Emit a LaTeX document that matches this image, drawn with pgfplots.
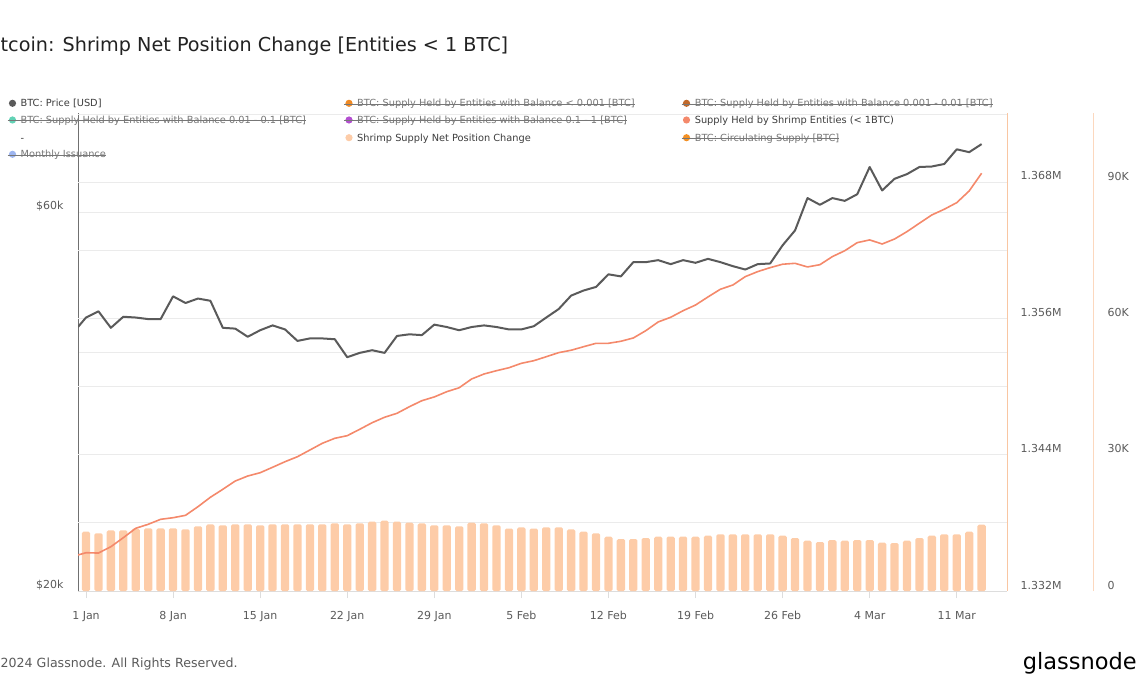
\documentclass[border=0pt]{standalone}
\usepackage{pgfplots}
\pgfplotsset{compat=1.18}
\usepackage{fontspec}
\setmainfont{DejaVu Sans}
\definecolor{pricec}{HTML}{5A5A5A}
\definecolor{supplyc}{HTML}{F4896B}
\definecolor{barc}{HTML}{FDCCA8}
\definecolor{gridc}{HTML}{EBEBEB}
\definecolor{textc}{HTML}{5A5A5A}
\definecolor{axisc}{HTML}{707070}
\definecolor{xaxisc}{HTML}{DDDDDD}
\definecolor{rightc}{HTML}{F9C6A2}
\definecolor{rightcb}{HTML}{FCD8BE}
\definecolor{legc}{HTML}{3C3C3C}
\definecolor{strkc}{HTML}{777777}
\definecolor{titlec}{HTML}{222222}
\definecolor{c001}{HTML}{F08A24}
\definecolor{c01}{HTML}{C1692A}
\definecolor{c1}{HTML}{62D2B5}
\definecolor{c10}{HTML}{B34FD0}
\definecolor{circc}{HTML}{F39024}
\definecolor{issc}{HTML}{9DB5F0}
\pgfplotsset{
  base/.style={at={(78pt,103pt)}, anchor=south west, scale only axis,
    width=929pt, height=478pt, xmin=-0.643, xmax=74.04,
    ticklabel style={font=\fontsize{11}{13}\selectfont, text=textc}},
}
\tikzset{
  legtext/.style={anchor=base west, inner sep=0pt, font=\fontsize{9.8}{12}\selectfont, text=legc},
  legstrk/.style={legtext, text=strkc},
}
\begin{document}
\begin{tikzpicture}[x=1pt,y=1pt]
\useasboundingbox (0,0) rectangle (1140,694);
% title (left part cut in the reference)
\node[anchor=base west, inner sep=0pt, font=\fontsize{19.2}{22}\selectfont, text=titlec] at (0.5,642) {tcoin: Shrimp Net Position Change [Entities < 1 BTC]};

% price grid / left axis
\begin{axis}[base, ymode=log, ymin=20000, ymax=80000,
  axis x line=none, axis y line*=left,
  ytick={20000,40000,60000}, yticklabels={\$20k,,\$60k},
  ymajorgrids, grid style={gridc, line width=0.8pt},
  ytick style={draw=none},
  y axis line style={color=axisc, line width=1pt, -},
  yticklabel style={xshift=-11pt, yshift=6pt}]
\end{axis}

% bars axis (Shrimp Supply Net Position Change)
\begin{axis}[base, ymin=0, ymax=105.2,
  axis x line*=bottom, axis y line*=right,
  ybar, bar width=8.3pt,
  ytick={0,15,...,105}, yticklabels={0,,30K,,60K,,90K,},
  ymajorgrids, grid style={gridc, line width=0.8pt},
  ytick style={draw=none},
  y axis line style={draw=none},
  x axis line style={color=xaxisc, line width=0.8pt, -},
  xtick={0,7,...,70},
  xticklabels={1 Jan,8 Jan,15 Jan,22 Jan,29 Jan,5 Feb,12 Feb,19 Feb,26 Feb,4 Mar,11 Mar},
  tick align=outside, major tick length=7pt,
  xtick style={color=xaxisc, line width=0.8pt},
  xticklabel style={yshift=-10pt},
  yticklabel style={xshift=90pt, yshift=6pt}]
\addplot[fill=barc, draw=none, rounded corners=1.5pt] table {
x y
0 13.05
1 12.70
2 13.36
3 13.36
4 13.71
5 13.80
6 13.80
7 13.80
8 13.58
9 14.24
10 14.68
11 14.46
12 14.68
13 14.68
14 14.46
15 14.68
16 14.68
17 14.68
18 14.68
19 14.68
20 14.90
21 14.68
22 14.90
23 15.25
24 15.47
25 15.25
26 15.03
27 14.90
28 14.46
29 14.46
30 14.24
31 15.03
32 14.90
33 14.46
34 13.75
35 14.02
36 13.75
37 14.02
38 14.02
39 13.58
40 13.05
41 12.70
42 11.95
43 11.44
44 11.44
45 11.66
46 11.95
47 11.95
48 11.95
49 11.95
50 12.17
51 12.48
52 12.48
53 12.48
54 12.48
55 12.48
56 12.17
57 11.66
58 11.07
59 10.78
60 11.22
61 11.07
62 11.22
63 11.22
64 10.63
65 10.56
66 11.07
67 11.66
68 12.17
69 12.48
70 12.48
71 13.05
72 14.59
};
\end{axis}

% supply axis
\begin{axis}[base, ymin=1332, ymax=1374.07,
  axis x line=none, axis y line*=right,
  ytick={1332,1344,1356,1368}, yticklabels={1.332M,1.344M,1.356M,1.368M},
  ytick style={draw=none},
  y axis line style={color=rightc, line width=1pt, -},
  yticklabel style={xshift=10pt, yshift=6pt}]
\addplot[supplyc, line width=1.6pt, line join=round] table {
x y
-0.643 1335.17
0 1335.37
1 1335.34
2 1335.90
3 1336.69
4 1337.52
5 1337.87
6 1338.31
7 1338.45
8 1338.66
9 1339.42
10 1340.25
11 1340.95
12 1341.68
13 1342.12
14 1342.41
15 1342.89
16 1343.38
17 1343.82
18 1344.41
19 1345.00
20 1345.44
21 1345.67
22 1346.23
23 1346.81
24 1347.29
25 1347.64
26 1348.22
27 1348.75
28 1349.08
29 1349.54
30 1349.89
31 1350.66
32 1351.10
33 1351.39
34 1351.65
35 1352.04
36 1352.27
37 1352.62
38 1352.98
39 1353.19
40 1353.50
41 1353.80
42 1353.80
43 1353.98
44 1354.27
45 1354.91
46 1355.68
47 1356.09
48 1356.67
49 1357.17
50 1357.88
51 1358.56
52 1358.93
53 1359.67
54 1360.11
55 1360.46
56 1360.76
57 1360.84
58 1360.52
59 1360.72
60 1361.43
61 1361.95
62 1362.66
63 1362.90
64 1362.54
65 1362.98
66 1363.63
67 1364.37
68 1365.10
69 1365.60
70 1366.18
71 1367.21
72 1368.77
};
\end{axis}

% price line
\begin{axis}[base, hide axis, ymode=log, ymin=20000, ymax=80000]
\addplot[pricec, line width=2pt, line join=round] table {
x y
-0.643 43000
0 44200
1 45000
2 42900
3 44300
4 44200
5 44000
6 44000
7 47000
8 46100
9 46700
10 46400
11 42900
12 42800
13 41800
14 42600
15 43200
16 42700
17 41300
18 41600
19 41600
20 41500
21 39400
22 39900
23 40200
24 39900
25 41900
26 42100
27 42000
28 43300
29 43000
30 42600
31 43000
32 43200
33 43000
34 42700
35 42700
36 43100
37 44200
38 45300
39 47100
40 47800
41 48300
42 50100
43 49800
44 51900
45 51900
46 52200
47 51600
48 52200
49 51800
50 52400
51 51900
52 51300
53 50800
54 51600
55 51700
56 54500
57 56900
58 62500
59 61300
60 62500
61 62000
62 63200
63 68400
64 63900
65 66100
66 67000
67 68400
68 68500
69 69000
70 72000
71 71400
72 73100
};
\end{axis}

% second right axis line
\draw[rightcb, line width=1pt] (1093,103) -- (1093,581);

% legend
% row 1
\fill[pricec] (12.5,590.7) circle (3.6);
\node[legtext] at (20.4,587.1) {BTC: Price [USD]};
\fill[c001] (349,590.7) circle (3.6);
\node[legstrk] (l12) at (357,587.1) {BTC: Supply Held by Entities with Balance < 0.001 [BTC]};
\draw[strkc, line width=0.7pt] (344,590.1) -- ([yshift=3pt]l12.base east);
\fill[c01] (686.5,590.7) circle (3.6);
\node[legstrk] (l13) at (694.6,587.1) {BTC: Supply Held by Entities with Balance 0.001 - 0.01 [BTC]};
\draw[strkc, line width=0.7pt] (681.5,590.1) -- ([yshift=3pt]l13.base east);
% row 2
\fill[c1] (12.5,574) circle (3.6);
\node[legstrk] (l21) at (20.4,570.4) {BTC: Supply Held by Entities with Balance 0.01 - 0.1 [BTC]};
\draw[strkc, line width=0.7pt] (7.5,573.4) -- ([yshift=3pt]l21.base east);
\fill[c10] (349,574) circle (3.6);
\node[legstrk] (l22) at (357,570.4) {BTC: Supply Held by Entities with Balance 0.1 - 1 [BTC]};
\draw[strkc, line width=0.7pt] (344,573.4) -- ([yshift=3pt]l22.base east);
\fill[supplyc] (686.5,574) circle (3.6);
\node[legtext] at (694.6,570.4) {Supply Held by Shrimp Entities (< 1BTC)};
% row 3
\node[legtext] at (20.4,552.7) {-};
\fill[barc] (349,556.3) circle (3.6);
\node[legtext] at (357,552.7) {Shrimp Supply Net Position Change};
\fill[circc] (686.5,556.3) circle (3.6);
\node[legstrk] (l33) at (694.6,552.7) {BTC: Circulating Supply [BTC]};
\draw[strkc, line width=0.7pt] (681.5,555.7) -- ([yshift=3pt]l33.base east);
% row 4
\fill[issc] (12.5,539.7) circle (3.6);
\node[legstrk] (l41) at (20.4,536.1) {Monthly Issuance};
\draw[strkc, line width=0.7pt] (7.5,539.1) -- ([yshift=3pt]l41.base east);

% footer
\node[anchor=base west, inner sep=0pt, font=\fontsize{12.6}{15}\selectfont, text=textc] at (0.5,26.5) {2024 Glassnode. All Rights Reserved.};
\node[anchor=base east, inner sep=0pt, font=\fontsize{22.5}{27}\selectfont, text=black] at (1137,25) {glassnode};
\end{tikzpicture}
\end{document}
